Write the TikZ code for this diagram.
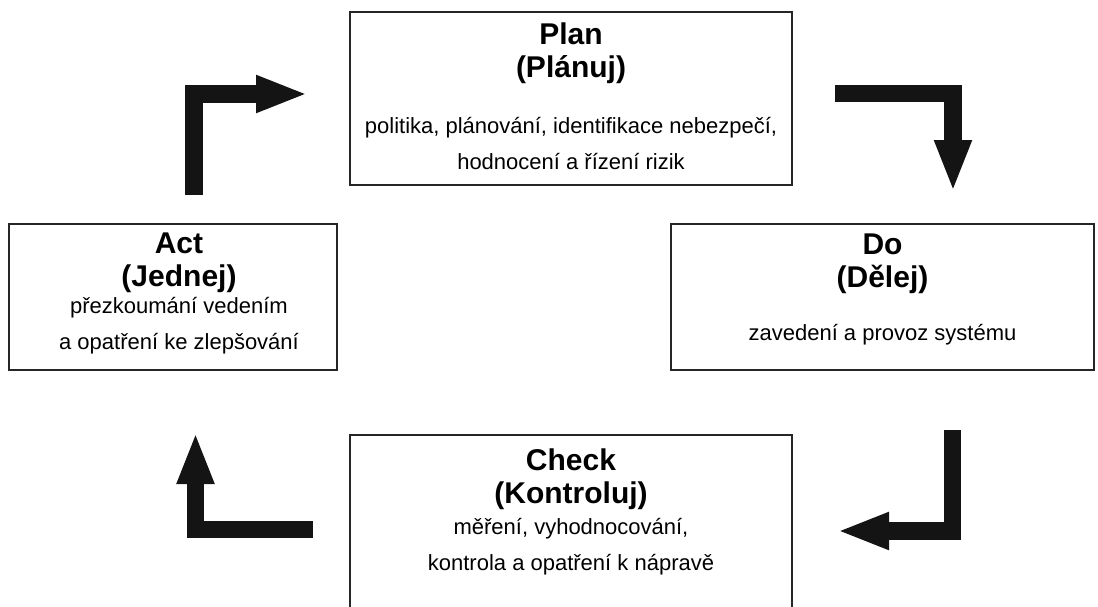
\documentclass[tikz,border=0pt]{standalone}
\usepackage{fontspec}
\setmainfont{Liberation Sans}
\usetikzlibrary{arrows.meta}

\begin{document}
\begin{tikzpicture}[%
        x=1pt, y=-1pt,
        box/.style={%
          rectangle,
          draw=black!85,
          line width=2pt,
          inner sep=0pt
        },
        head/.style={%
          align=center,
          inner sep=0pt,
          anchor=base,
          font=\fontsize{30}{33}\selectfont\bfseries
        },
        body/.style={%
          align=center,
          inner sep=0pt,
          anchor=base,
          font=\fontsize{22}{36}\selectfont
        },
        pdcaarrow/.style={%
          line width=17.5pt,
          draw=black!92,
          -{Triangle[length=52pt,width=34pt]}
        }
      ]
      \useasboundingbox (0,0) rectangle (1098,606);
      \clip (0,0) rectangle (1098,606);

      \node[box, minimum width=442, minimum height=173] (plan) at (571,98.5) {};
      \node[box, minimum width=328, minimum height=146] (act) at (173,297) {};
      \node[box, minimum width=423, minimum height=146] (do) at (882.5,297) {};
      \node[box, minimum width=442, minimum height=185] (check) at (571,527.5) {};

      % base anchor sits on the last line
      \node[head] (planhead) at ([yshift=-66pt]plan.north) {Plan\\(Plánuj)};
      \node[body] (planbody) at ([yshift=-158pt]plan.north) {politika, plánování, identifikace nebezpečí,\\hodnocení a řízení rizik};
      \node[head] (acthead) at ([xshift=6pt,yshift=-63pt]act.north) {Act\\(Jednej)};
      \node[body] (actbody) at ([xshift=6pt,yshift=-126pt]act.north) {přezkoumání vedením\\a opatření ke zlepšování};
      \node[head] (dohead) at ([yshift=-64pt]do.north) {Do\\(Dělej)};
      \node[body] (dobody) at ([yshift=-117pt]do.north) {zavedení a provoz systému};
      \node[head] (checkhead) at ([yshift=-69pt]check.north) {Check\\(Kontroluj)};
      \node[body] (checkbody) at ([yshift=-136pt]check.north) {měření, vyhodnocování,\\kontrola a opatření k nápravě};

      \coordinate (a1s) at (194,195);
      \coordinate (a1e) at (308,94);
      \coordinate (a2s) at (835,93.5);
      \coordinate (a2e) at (953,192);
      \coordinate (a3s) at (952.5,430);
      \coordinate (a3e) at (837,531);
      \coordinate (a4s) at (313,529.5);
      \coordinate (a4e) at (195.5,432);

      \draw[pdcaarrow] (a1s) |- (a1e);
      \draw[pdcaarrow] (a2s) -| (a2e);
      \draw[pdcaarrow] (a3s) |- (a3e);
      \draw[pdcaarrow] (a4s) -| (a4e);

  \end{tikzpicture}
\end{document}
